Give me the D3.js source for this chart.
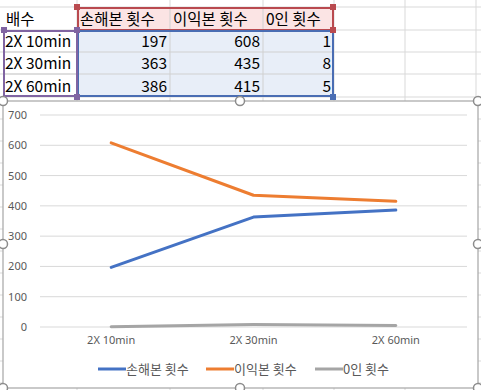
<!DOCTYPE html>
<html>
<head>
<meta charset="utf-8">
<script src="https://cdn.jsdelivr.net/npm/d3@7"></script>
<style>
  body { margin: 0; background: #fff; }
  svg { display: block; font-family: "Noto Sans CJK KR", "Noto Sans", sans-serif; }
</style>
</head>
<body>
<div id="chart"></div>
<script>
// data
var headerLabel = "배수";
var categories = ["2X 10min", "2X 30min", "2X 60min"];
var seriesNames = ["손해본 횟수", "이익본 횟수", "0인 횟수"];
var lossCounts = [197, 363, 386];
var gainCounts = [608, 435, 415];
var zeroCounts = [1, 8, 5];
var yTicks = [0, 100, 200, 300, 400, 500, 600, 700];

var seriesValues = [lossCounts, gainCounts, zeroCounts];
var colors = ["#4472C4", "#ED7D31", "#A5A5A5"];

var W = 481, H = 390;
var svg = d3.select("#chart").append("svg")
    .attr("width", W)
    .attr("height", H);

// spreadsheet grid behind
var colEdges = [77, 170, 263, 334, 405, 476];
var rowEdges = [7, 30, 52, 74, 97, 119, 141, 163, 185, 207, 229, 251, 273, 295, 317, 339, 361, 383];
svg.selectAll(".vline").data(colEdges).enter().append("line")
    .attr("x1", function(d) { return d; }).attr("x2", function(d) { return d; })
    .attr("y1", 0).attr("y2", H)
    .attr("stroke", "#d9d9d9");
svg.selectAll(".hline").data(rowEdges).enter().append("line")
    .attr("x1", 0).attr("x2", W)
    .attr("y1", function(d) { return d; }).attr("y2", function(d) { return d; })
    .attr("stroke", "#d9d9d9");

// range fills
svg.append("rect").attr("x", 77).attr("y", 7).attr("width", 257).attr("height", 23)
    .attr("fill", "#FBE4E4");
svg.append("rect").attr("x", 77).attr("y", 30).attr("width", 257).attr("height", 67)
    .attr("fill", "#E8EEF8");
colEdges.slice(1, 3).forEach(function(x) {
    svg.append("line").attr("x1", x).attr("x2", x).attr("y1", 7).attr("y2", 97).attr("stroke", "#d0d0d0");
});
[52, 74].forEach(function(y) {
    svg.append("line").attr("x1", 3).attr("x2", 334).attr("y1", y).attr("y2", y).attr("stroke", "#d0d0d0");
});

// table text
var cellFont = 15.5;
svg.append("text").attr("x", 6).attr("y", 25).attr("font-size", cellFont).attr("fill", "#000").text(headerLabel);
seriesNames.forEach(function(n, j) {
    svg.append("text").attr("x", colEdges[j] + 3).attr("y", 25)
        .attr("font-size", cellFont).attr("fill", "#000").text(n);
});
categories.forEach(function(c, i) {
    var y = 47 + i * 22.3;
    svg.append("text").attr("x", 5).attr("y", y).attr("font-size", cellFont).attr("fill", "#000").text(c);
    seriesValues.forEach(function(vals, j) {
        svg.append("text").attr("x", colEdges[j + 1] - 3).attr("y", y)
            .attr("text-anchor", "end").attr("font-size", cellFont).attr("fill", "#000")
            .text(vals[i]);
    });
});

// selection borders
function box(x, y, w, h, color) {
    svg.append("rect").attr("x", x).attr("y", y).attr("width", w).attr("height", h)
        .attr("fill", "none").attr("stroke", color).attr("stroke-width", 2);
}
function handle(x, y, color) {
    svg.append("rect").attr("x", x - 3).attr("y", y - 3).attr("width", 6).attr("height", 6)
        .attr("fill", color);
}
box(78, 8, 255, 22, "#B94A4F");
box(78, 31, 255, 65, "#4A6DB3");
box(4, 31, 73, 65, "#8064A2");
handle(77, 7, "#B94A4F"); handle(333, 7, "#B94A4F"); handle(333, 30, "#B94A4F");
handle(4, 30, "#8064A2"); handle(77, 30, "#8064A2"); handle(77, 97, "#8064A2");
handle(333, 97, "#4A6DB3");

// chart object
var chartBox = { x: 3, y: 101, w: 475, h: 287 };
svg.append("rect").attr("x", chartBox.x).attr("y", chartBox.y)
    .attr("width", chartBox.w).attr("height", chartBox.h)
    .attr("fill", "#fff").attr("stroke", "#a6a6a6").attr("stroke-width", 1.2);

var plot = { left: 40, right: 467, top: 115, bottom: 327 };
var x = d3.scaleBand().domain(categories).range([plot.left, plot.right]);
var y = d3.scaleLinear().domain([0, 700]).range([plot.bottom, plot.top]);

var g = svg.append("g");

// gridlines
g.selectAll(".grid").data(yTicks).enter().append("line")
    .attr("x1", plot.left).attr("x2", plot.right)
    .attr("y1", function(d) { return y(d); }).attr("y2", function(d) { return y(d); })
    .attr("stroke", "#d9d9d9").attr("stroke-width", 1);

// y axis
var yAxis = g.append("g").attr("transform", "translate(" + plot.left + ",0)")
    .call(d3.axisLeft(y).tickValues(yTicks).tickSize(0).tickPadding(13));
yAxis.select(".domain").remove();
yAxis.selectAll("text").attr("fill", "#595959").attr("font-size", 11)
    .style("font-family", "'Noto Sans', sans-serif");

// x axis
var xAxis = g.append("g").attr("transform", "translate(0," + plot.bottom + ")")
    .call(d3.axisBottom(x).tickSize(0).tickPadding(9));
xAxis.select(".domain").remove();
xAxis.selectAll("text").attr("fill", "#595959").attr("font-size", 11)
    .style("font-family", "'Noto Sans', sans-serif");

// lines
var line = d3.line()
    .x(function(d, i) { return x(categories[i]) + x.bandwidth() / 2; })
    .y(function(d) { return y(d); });

seriesValues.forEach(function(vals, j) {
    g.append("path").datum(vals)
        .attr("d", line)
        .attr("fill", "none")
        .attr("stroke", colors[j])
        .attr("stroke-width", 3)
        .attr("stroke-linejoin", "round")
        .attr("stroke-linecap", "round");
});

// legend
var legendX = [98, 206, 315];
var legend = g.selectAll(".legend").data(seriesNames).enter().append("g")
    .attr("transform", function(d, i) { return "translate(" + legendX[i] + ",369)"; });
legend.append("line").attr("x1", 0).attr("x2", 28).attr("y1", 0).attr("y2", 0)
    .attr("stroke", function(d, i) { return colors[i]; }).attr("stroke-width", 3);
legend.append("text").attr("x", 28).attr("y", 4.5)
    .attr("font-size", 13).attr("fill", "#595959").text(function(d) { return d; });

// chart handles
var handles = [[3, 101], [240, 101], [478, 101], [3, 244], [3, 388], [240, 388], [478, 388], [478, 244]];
svg.selectAll(".ch").data(handles).enter().append("circle")
    .attr("cx", function(d) { return d[0]; }).attr("cy", function(d) { return d[1]; })
    .attr("r", 4.5).attr("fill", "#fff").attr("stroke", "#8c8c8c").attr("stroke-width", 1.5);
</script>
</body>
</html>
